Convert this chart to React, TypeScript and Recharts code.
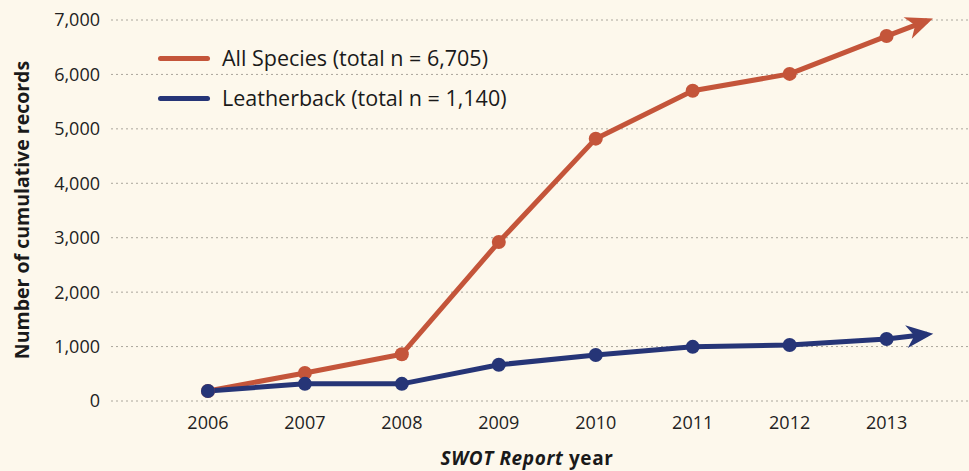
import React from 'react';
import { LineChart, Line, XAxis, YAxis, CartesianGrid } from 'recharts';

const years = [2006, 2007, 2008, 2009, 2010, 2011, 2012, 2013];
const allSpecies = [185, 515, 860, 2920, 4820, 5700, 6010, 6705];
const leatherback = [185, 315, 315, 665, 845, 995, 1030, 1140];
// where the arrows point to, past the last report year
const arrowYear = 2013.42;
const arrowAll = 6990;
const arrowLeather = 1225;
const yTicks = [0, 1000, 2000, 3000, 4000, 5000, 6000, 7000];

const RED = '#c4553a';
const NAVY = '#263577';
const FONT = '"Open Sans", "Noto Sans", sans-serif';

const data = [
  ...years.map((y, i) => ({ year: y, all: allSpecies[i], leather: leatherback[i] })),
  { year: arrowYear, all: arrowAll, leather: arrowLeather, tip: true },
];

const makeDot = (color: string) => (props: any) => {
  const { cx, cy, index, payload, points } = props;
  if (cx == null || cy == null) return <g key={`d-${index}`} />;
  if (payload && payload.tip) {
    const prev = points && points[index - 1] ? points[index - 1] : { x: cx - 10, y: cy };
    const deg = (Math.atan2(cy - prev.y, cx - prev.x) * 180) / Math.PI;
    return (
      <g key={`d-${index}`} transform={`translate(${cx},${cy}) rotate(${deg})`}>
        <path d="M6,0 L-21,-11.5 L-13,0 L-21,11.5 Z" fill={color} />
      </g>
    );
  }
  return <circle key={`d-${index}`} cx={cx} cy={cy} r={7} fill={color} />;
};

export default function App() {
  return (
    <div style={{ position: 'relative', width: 969, height: 471, background: '#fdf8ec', fontFamily: FONT, overflow: 'hidden' }}>
      <style>{'body{margin:0}'}</style>
      <LineChart width={969} height={471} data={data} margin={{ top: 20, right: 0, bottom: 0, left: 0 }}>
        <CartesianGrid vertical={false} stroke="#aaa69c" strokeDasharray="2 3" />
        <XAxis
          dataKey="year"
          type="number"
          domain={[2005, 2013.85]}
          ticks={years}
          allowDataOverflow
          axisLine={false}
          tickLine={false}
          height={70}
          tickMargin={9}
          tick={{ fontSize: 18, fill: '#222', fontFamily: FONT }}
        />
        <YAxis
          type="number"
          domain={[0, 7000]}
          ticks={yTicks}
          width={111}
          axisLine={false}
          tickLine={false}
          tickMargin={5}
          tickFormatter={(v: number) => v.toLocaleString('en-US')}
          tick={{ fontSize: 18, fill: '#222', fontFamily: FONT }}
        />
        <Line
          dataKey="all"
          stroke={RED}
          strokeWidth={5}
          strokeLinejoin="round"
          dot={makeDot(RED)}
          activeDot={false}
          isAnimationActive={false}
        />
        <Line
          dataKey="leather"
          stroke={NAVY}
          strokeWidth={5}
          strokeLinejoin="round"
          dot={makeDot(NAVY)}
          activeDot={false}
          isAnimationActive={false}
        />
      </LineChart>

      {/* legend */}
      {[
        { label: 'All Species (total n = 6,705)', color: RED, y: 58 },
        { label: 'Leatherback (total n = 1,140)', color: NAVY, y: 98 },
      ].map((l) => (
        <div key={l.label} style={{ position: 'absolute', left: 158, top: l.y - 15, height: 30, display: 'flex', alignItems: 'center' }}>
          <div style={{ width: 52, height: 5, borderRadius: 3, background: l.color }} />
          <span style={{ marginLeft: 12, fontSize: 21.5, lineHeight: 1, color: '#1a1a1a', whiteSpace: 'nowrap' }}>{l.label}</span>
        </div>
      ))}

      {/* y axis title */}
      <div
        style={{
          position: 'absolute',
          left: 22,
          top: 210,
          transform: 'translate(-50%, -50%) rotate(-90deg)',
          fontSize: 19.5,
          lineHeight: 1,
          fontWeight: 700,
          color: '#1a1a1a',
          whiteSpace: 'nowrap',
        }}
      >
        Number of cumulative records
      </div>

      {/* x axis title */}
      <div
        style={{
          position: 'absolute',
          left: 527,
          top: 458,
          transform: 'translate(-50%, -50%)',
          fontSize: 19,
          lineHeight: 1,
          letterSpacing: 0.6,
          fontWeight: 700,
          color: '#1a1a1a',
          whiteSpace: 'nowrap',
        }}
      >
        <i>SWOT Report</i> year
      </div>
    </div>
  );
}
